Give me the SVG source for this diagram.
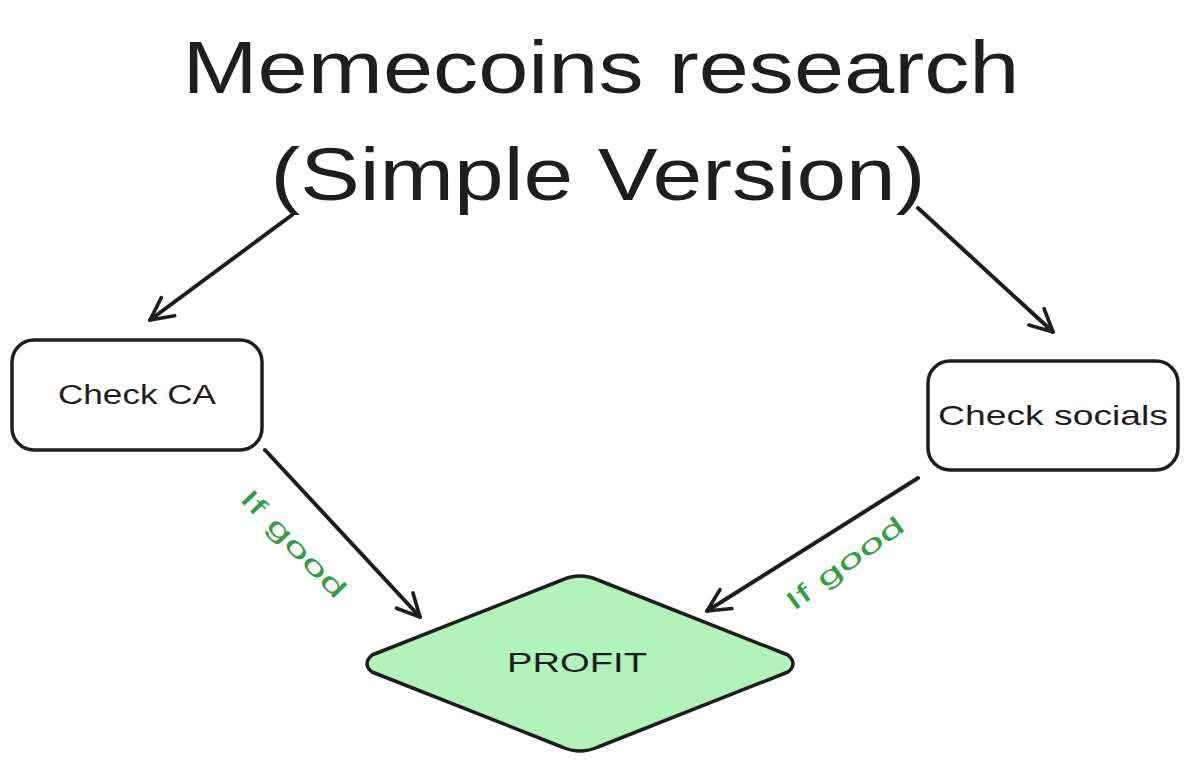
<svg xmlns="http://www.w3.org/2000/svg" width="1189" height="772" viewBox="0 0 1189 772">
<style>
.t{font-family:"Liberation Sans","DejaVu Sans",sans-serif;fill:#1e1e1e}
.box{fill:#ffffff;stroke:#1e1e1e;stroke-width:3.5}
.conn{stroke:#1e1e1e;stroke-width:4;stroke-linecap:round;fill:none}
.lbl{font-family:"Liberation Sans","DejaVu Sans",sans-serif;fill:#2f9e44;font-size:26px}
</style>
<defs>
<marker id="ah" viewBox="0 0 20 20" refX="18" refY="10" markerWidth="7" markerHeight="7" orient="auto" markerUnits="strokeWidth">
<path d="M2,2 L18,10 L2,18" fill="none" stroke="#1e1e1e" stroke-width="2.6" stroke-linecap="round" stroke-linejoin="round"/>
</marker>
</defs>
<rect width="1189" height="772" fill="#ffffff"/>
<g id="title">
<text class="t" x="601" y="93" font-size="74" text-anchor="middle" textLength="837" lengthAdjust="spacingAndGlyphs">Memecoins research</text>
<text class="t" x="598" y="200" font-size="74" text-anchor="middle" textLength="655" lengthAdjust="spacingAndGlyphs">(Simple Version)</text>
</g>
<g id="connectors">
<line class="conn" x1="292" y1="215" x2="150" y2="320" marker-end="url(#ah)"/>
<line class="conn" x1="918" y1="208" x2="1053" y2="332" marker-end="url(#ah)"/>
<line class="conn" x1="265" y1="450" x2="420" y2="617" marker-end="url(#ah)"/>
<line class="conn" x1="918" y1="478" x2="707" y2="611" marker-end="url(#ah)"/>
<text class="lbl" transform="translate(292,545) rotate(46)" text-anchor="middle" dominant-baseline="middle" textLength="140" lengthAdjust="spacingAndGlyphs">If good</text>
<text class="lbl" transform="translate(846,565) rotate(-36)" text-anchor="middle" dominant-baseline="middle" textLength="140" lengthAdjust="spacingAndGlyphs">If good</text>
</g>
<g id="check-ca">
<rect class="box" x="12" y="340" width="250" height="110" rx="22"/>
<text class="t" x="137" y="404" font-size="27" text-anchor="middle" textLength="158" lengthAdjust="spacingAndGlyphs">Check CA</text>
</g>
<g id="check-socials">
<rect class="box" x="928" y="361" width="250" height="109" rx="22"/>
<text class="t" x="1053" y="425" font-size="28" text-anchor="middle" textLength="230" lengthAdjust="spacingAndGlyphs">Check socials</text>
</g>
<g id="profit">
<path d="M562,580 Q580,572 598,580 L788,655 Q798,664 788,672 L598,747 Q580,755 562,747 L372,672 Q362,664 372,655 Z" fill="#b2f2bb" stroke="#1e1e1e" stroke-width="3.5" stroke-linejoin="round"/>
<text class="t" x="577" y="672" font-size="28" text-anchor="middle" textLength="140" lengthAdjust="spacingAndGlyphs">PROFIT</text>
</g>
</svg>
